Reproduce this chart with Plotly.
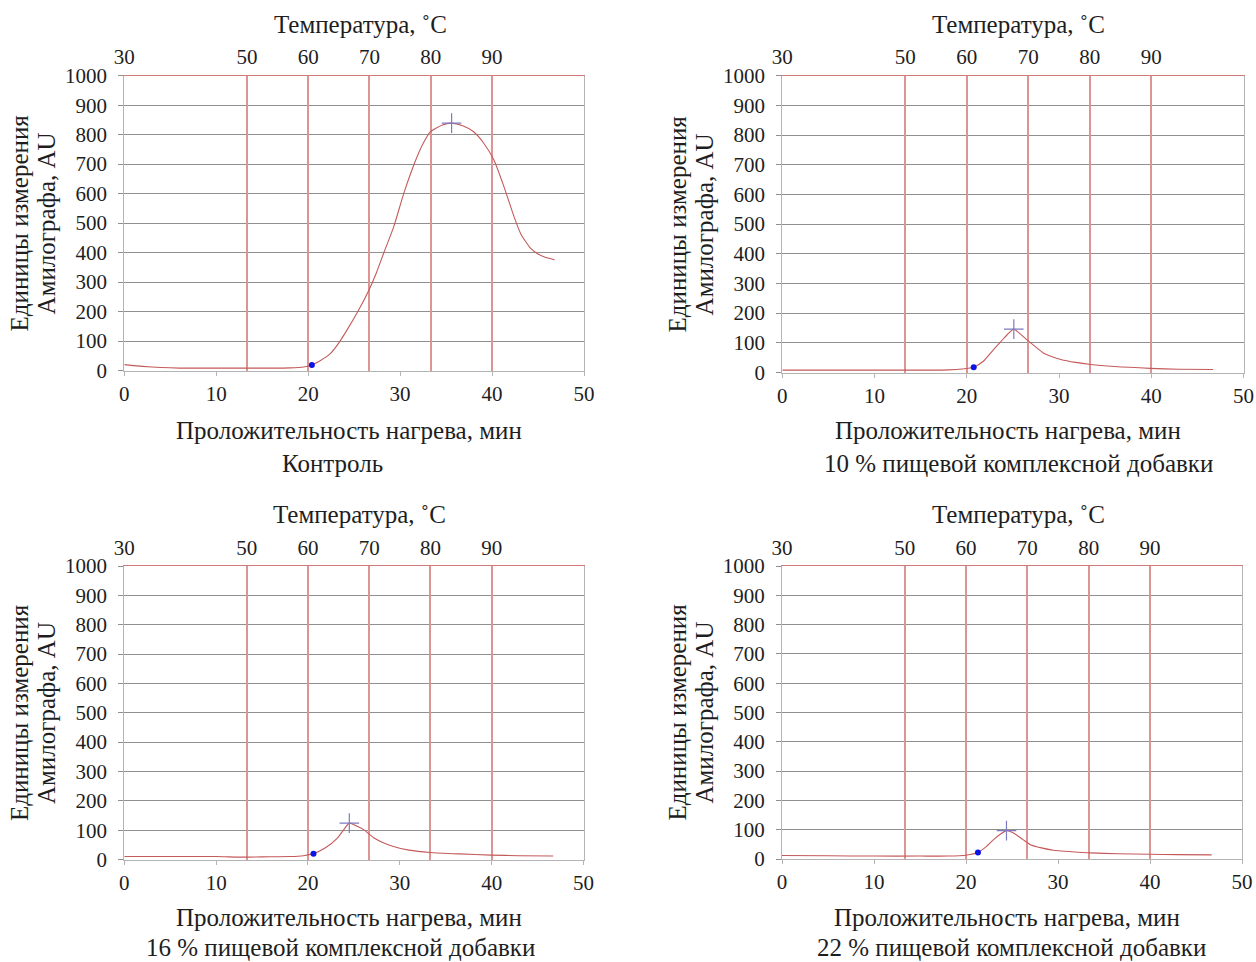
import plotly.graph_objects as go

# ---- data: amylograph viscosity curves (time in min, viscosity in AU) ----
time_control = [0, 2, 4, 6, 8, 10, 12, 14, 16, 18, 19.5, 20.4, 21.3, 22.4, 23.3, 24.2,
                25.4, 26.6, 27.4, 28.2, 29.3, 30.4, 31.7, 32.5, 33.3, 34.6, 35.6, 36.8,
                38.0, 39.1, 40.2, 41.3, 42.4, 43.1, 44.2, 45.0, 45.7, 46.8]
visc_control = [20, 14, 10, 8, 8, 8, 8, 8, 8, 9, 12, 19, 33, 57, 92, 136,
                200, 272, 330, 397, 487, 601, 714, 770, 810, 833, 839, 830,
                810, 771, 714, 623, 521, 465, 414, 395, 385, 376]

time_10 = [0, 5, 10, 15, 18, 19.5, 20.75, 21.8, 22.9, 23.7, 24.4, 25.1, 25.8, 26.5,
           27.4, 28.3, 29.2, 30.2, 31.8, 33.4, 36.0, 39.9, 43.0, 46.7]
visc_10 = [8, 8, 8, 8, 9, 12, 18, 38, 77, 104, 128, 146, 130, 111,
           88, 66, 54, 44, 34, 27, 20, 14, 11, 10]

time_16 = [0, 5, 10, 13, 15, 18, 19.5, 20.6, 21.9, 23.2, 23.9, 24.5, 25.3, 26.1,
           27.2, 28.2, 29.3, 31.0, 33.3, 36.5, 39.9, 43.0, 46.7]
visc_16 = [10, 10, 10, 8, 9, 10, 13, 20, 40, 73, 102, 124, 114, 101,
           73, 57, 44, 32, 24, 19, 15, 13, 12]

time_22 = [0, 5, 10, 15, 18, 20.0, 21.3, 22.2, 23.0, 23.8, 24.4, 25.0, 25.5, 26.2,
           27.0, 28.2, 29.5, 31.5, 33.5, 36.5, 40.0, 43.0, 46.7]
visc_22 = [12, 11, 10, 10, 10, 13, 22, 42, 66, 86, 97, 91, 82, 66,
           49, 38, 30, 25, 21, 18, 16, 15, 14]

# start of gelatinisation (dot) and peak viscosity (cross): [time, AU]
onset_points = [(20.4, 19), (20.75, 18), (20.6, 20), (21.3, 22)]
peak_points = [(35.6, 839), (25.1, 146), (24.5, 124), (24.4, 97)]

subtitles = ["Контроль",
             "10 % пищевой комплексной добавки",
             "16 % пищевой комплексной добавки",
             "22 % пищевой комплексной добавки"]

time_ticks = [0, 10, 20, 30, 40, 50]
temp_tick_pos = [0, 40 / 3, 20, 80 / 3, 100 / 3, 40]
temp_tick_text = ["30", "50", "60", "70", "80", "90"]
visc_ticks = list(range(0, 1001, 100))

series = [(time_control, visc_control), (time_10, visc_10),
          (time_16, visc_16), (time_22, visc_22)]

# ---- layout geometry (pixels) ----
W, H = 1256, 962
panels = [  # left, right, top, bottom
    (124.3, 584.0, 75.7, 370.5),
    (782.3, 1243.5, 75.7, 372.5),
    (124.3, 583.5, 566.0, 859.5),
    (782.0, 1242.0, 566.0, 859.0),
]
title_y = [25, 25, 514, 514]
xtitle_y = [430, 430, 917, 917]
sub_y = [463, 463, None, None]          # bottom row sits on the page edge
xtitle_dx = [-5, -5, -5, -5]
sub_dx = [-22, 6, -13, -1]

FONT = "Liberation Serif"
TXT = "#1e1e1e"
GRID = "#8f8f8f"
BORDER = "#b4b4b4"
RED = "#df9494"
CURVE = "#c45a5a"
TICK_SIZE = 21
TITLE_SIZE = 25

fig = go.Figure()
layout = dict(
    width=W, height=H,
    margin=dict(l=0, r=0, t=0, b=0, pad=0, autoexpand=False),
    paper_bgcolor="white", plot_bgcolor="white", showlegend=False,
    font=dict(family=FONT, size=TICK_SIZE, color=TXT),
)
annotations = []


def note(text, x_px, y_px=None, angle=0, **kw):
    a = dict(text=text, x=x_px / W, xref="paper", yref="paper",
             showarrow=False, xanchor="center", textangle=angle,
             borderpad=0, font=dict(size=TITLE_SIZE, color=TXT))
    if y_px is None:
        a.update(y=0, yanchor="bottom")
    else:
        a.update(y=1 - y_px / H, yanchor="middle")
    a.update(kw)
    annotations.append(a)


for i, ((t, v), (l, r, tp, bt)) in enumerate(zip(series, panels)):
    n = i + 1
    nt = i + 5
    xd = [l / W, r / W]
    yd = [1 - bt / H, 1 - tp / H]
    xa, ya, xt = f"x{n}", f"y{n}", f"x{nt}"

    layout[f"xaxis{n}"] = dict(
        domain=xd, anchor=ya, range=[0, 50], tickvals=time_ticks,
        automargin=False,
        showgrid=False, zeroline=False, showline=True, linecolor=BORDER,
        linewidth=1, ticks="outside", ticklen=4, tickcolor=BORDER,
        ticklabelstandoff=0, tickfont=dict(size=TICK_SIZE, color=TXT),
    )
    layout[f"yaxis{n}"] = dict(
        domain=yd, anchor=xa, range=[0, 1000], tickvals=visc_ticks,
        automargin=False,
        showgrid=True, gridcolor=GRID, gridwidth=1, zeroline=False,
        showline=True, linecolor=BORDER, linewidth=1, mirror=True,
        ticks="outside", ticklen=5, tickcolor=GRID,
        ticklabelstandoff=7, tickfont=dict(size=TICK_SIZE, color=TXT),
    )
    # temperature scale on top, its grid gives the red verticals
    layout[f"xaxis{nt}"] = dict(
        overlaying=xa, anchor=ya, side="top", range=[0, 50],
        automargin=False,
        tickvals=temp_tick_pos, ticktext=temp_tick_text,
        showgrid=True, gridcolor=RED, gridwidth=1.5, zeroline=False,
        showline=True, linecolor="#d27a7a", linewidth=1.2,
        ticks="", ticklabelstandoff=2, tickfont=dict(size=TICK_SIZE, color=TXT),
    )

    fig.add_trace(go.Scatter(
        x=t, y=v, mode="lines", xaxis=xa, yaxis=ya,
        line=dict(color=CURVE, width=1.1, shape="spline", smoothing=0.6),
        hoverinfo="skip"))
    ox, oy = onset_points[i]
    fig.add_trace(go.Scatter(
        x=[ox], y=[oy], mode="markers", xaxis=xt, yaxis=ya,
        marker=dict(color="#0a14e6", size=6), hoverinfo="skip"))
    px_, py_ = peak_points[i]
    fig.add_trace(go.Scatter(
        x=[px_], y=[py_], mode="markers", xaxis=xt, yaxis=ya,
        marker=dict(symbol="cross-thin", size=14,
                    line=dict(color="#7b7bc4", width=1.2)),
        hoverinfo="skip"))

    cx = (l + r) / 2
    note("Температура, ˚C", cx + 6, title_y[i])
    note("Проложительность нагрева, мин", cx + xtitle_dx[i], xtitle_y[i])
    note(subtitles[i], cx + sub_dx[i], sub_y[i])
    ymid = (tp + bt) / 2
    note("Единицы измерения", l - 105, ymid, angle=-90)
    note("Амилографа, AU", l - 78, ymid, angle=-90)

layout["annotations"] = annotations
fig.update_layout(**layout)
fig.write_html("out.html")
